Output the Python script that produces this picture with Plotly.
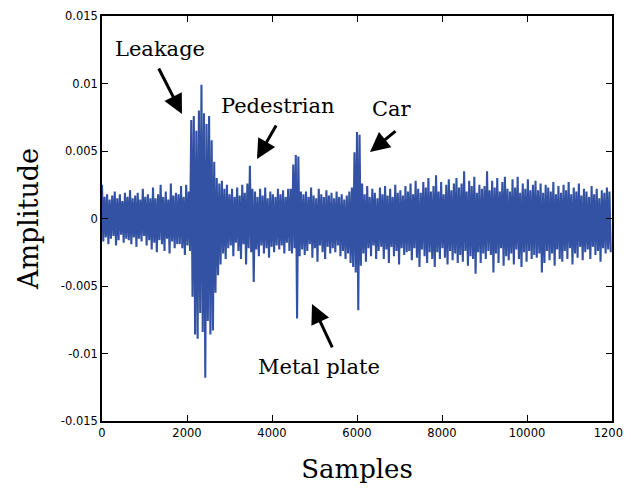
import numpy as np
import plotly.graph_objects as go

# Signal: alternating peak (upper) and trough (lower) values,
# in units of 1e-3, one pair every 60 samples (10 pairs per row = 600 samples).
value_unit = 1e-3
pair_span = 60  # samples per upper/lower pair

upper_peaks = [
    2.5, 1.6, 1.8, 1.4, 1.7, 2.0, 1.5, 1.8, 1.3, 1.9,
    1.6, 2.1, 1.5, 1.7, 1.9, 1.4, 2.2, 1.6, 1.8, 1.5,
    2.3, 1.5, 1.8, 2.5, 1.6, 2.0, 1.4, 2.6, 1.7, 1.9,
    1.8, 2.4, 1.6, 2.5, 2.0, 7.3, 7.6, 6.5, 8.0, 9.9,
    7.8, 7.0, 7.6, 5.8, 4.2, 3.0, 2.6, 2.8, 2.2, 2.5,
    1.8, 2.2, 1.6, 2.3, 1.7, 2.5, 1.9, 2.6, 3.9, 2.2,
    2.0, 1.6, 2.2, 1.7, 2.3, 1.5, 2.0, 1.8, 1.6, 2.2,
    1.8, 2.1, 1.6, 2.2, 2.2, 4.0, 4.7, 4.6, 2.0, 1.8,
    2.0, 1.6, 2.3, 1.7, 1.5, 2.2, 1.8, 1.6, 2.1, 1.7,
    1.9, 1.5, 2.0, 1.6, 1.8, 1.4, 1.7, 2.0, 2.3, 4.9,
    6.4, 6.2, 2.6, 1.8, 2.4, 1.6, 2.2, 1.9, 1.5, 2.3,
    1.8, 2.4, 1.7, 2.2, 1.6, 2.5, 1.9, 2.1, 1.7, 2.4,
    2.0, 2.6, 1.8, 2.8, 2.2, 1.9, 2.7, 2.3, 3.0, 2.0,
    2.4, 3.2, 2.0, 2.7, 1.8, 2.5, 2.9, 2.1, 2.6, 3.0,
    2.3, 2.6, 3.5, 2.0, 2.8, 2.4, 3.1, 1.9, 2.5, 2.2,
    2.4, 3.5, 2.1, 2.8, 2.3, 3.0, 2.0, 2.7, 3.1, 2.2,
    2.0, 2.9, 2.3, 3.1, 1.9, 2.6, 2.2, 2.9, 2.1, 2.5,
    2.8, 2.1, 2.6, 1.9, 2.5, 2.3, 2.0, 2.7, 1.8, 2.4,
    1.9, 2.5, 2.1, 2.7, 1.8, 2.3, 2.0, 2.6, 1.7, 2.2,
    2.0, 1.6, 2.4, 1.8, 2.2, 1.5, 2.1, 1.9, 2.3, 2.0,
]

lower_troughs = [
    -1.7, -1.4, -1.9, -1.5, -1.3, -2.0, -1.6, -1.2, -1.8, -1.5,
    -1.6, -1.9, -1.4, -2.1, -1.5, -1.7, -1.3, -2.0, -1.6, -2.3,
    -1.8, -2.5, -1.6, -1.9, -2.4, -1.5, -2.6, -1.7, -2.2, -1.9,
    -1.9, -2.2, -2.7, -2.0, -2.4, -5.8, -8.6, -8.9, -7.0, -8.4,
    -11.8, -7.6, -8.6, -8.3, -5.5, -4.2, -3.4, -2.6, -3.0, -2.2,
    -2.0, -2.8, -1.8, -2.4, -3.0, -1.9, -3.4, -2.2, -2.5, -4.7,
    -2.3, -2.8, -2.0, -2.6, -2.2, -2.9, -2.1, -2.5, -2.0, -2.3,
    -2.0, -2.6, -1.8, -2.4, -2.6, -2.2, -7.4, -2.8, -2.3, -2.7,
    -2.4, -1.9, -2.9, -2.2, -3.2, -2.0, -2.5, -3.0, -2.1, -2.6,
    -2.2, -2.5, -2.0, -2.8, -2.4, -3.0, -2.6, -3.3, -3.6, -4.0,
    -6.8, -3.5, -2.6, -3.2, -2.2, -2.8, -2.0, -3.0, -2.4, -2.1,
    -3.0, -2.3, -3.3, -2.1, -2.8, -2.4, -3.4, -2.2, -2.7, -2.5,
    -2.4, -3.1, -2.2, -2.9, -3.6, -2.3, -2.8, -3.3, -2.5, -3.0,
    -3.6, -2.5, -3.0, -2.2, -2.9, -3.4, -2.4, -3.1, -2.6, -3.3,
    -2.7, -3.2, -2.4, -3.5, -2.8, -3.0, -4.1, -2.5, -3.3, -2.6,
    -3.0, -2.4, -2.7, -4.0, -2.6, -3.3, -2.2, -3.5, -2.8, -3.1,
    -2.6, -3.4, -2.3, -3.0, -3.6, -2.5, -3.2, -2.4, -3.0, -2.7,
    -2.9, -2.6, -4.0, -3.3, -2.4, -3.1, -2.6, -3.5, -2.3, -3.0,
    -3.2, -2.4, -3.0, -2.2, -3.4, -2.6, -2.9, -2.1, -3.1, -2.5,
    -2.3, -3.0, -2.1, -2.7, -2.4, -3.2, -2.2, -2.6, -2.3, -2.5,
]

x_ticks = [0, 2000, 4000, 6000, 8000, 10000, 12000]
x_tick_text = ["0", "2000", "4000", "6000", "8000", "10000", "12000"]
y_ticks = [-0.015, -0.01, -0.005, 0, 0.005, 0.01, 0.015]
y_tick_text = ["-0.015", "-0.01", "-0.005", "0", "0.005", "0.01", "0.015"]

# annotations: (label, text x, text y, arrow tip x, arrow tip y, tail offset px)
labels = [
    ("Leakage", 1365, 0.01255, 1882, 0.00774, -24, -47),
    ("Pedestrian", 4141, 0.00833, 3647, 0.00441, 20, -35),
    ("Car", 6824, 0.00811, 6306, 0.00493, 27, -22),
    ("Metal plate", 5106, -0.0110, 4941, -0.00633, 21, 45),
]

# interleave peaks and troughs into one sample sequence
n = len(upper_peaks)
samples = np.empty(2 * n)
values = np.empty(2 * n)
samples[0::2] = np.arange(n) * pair_span
samples[1::2] = np.arange(n) * pair_span + pair_span / 2
values[0::2] = np.array(upper_peaks) * value_unit
values[1::2] = np.array(lower_troughs) * value_unit

fig = go.Figure()
fig.add_trace(go.Scatter(
    x=samples, y=values, mode="lines",
    line=dict(color="#3352a3", width=2.1),
    showlegend=False, hoverinfo="skip",
))

annotations = []
for text, tx, ty, ax_, ay_, dx, dy in labels:
    annotations.append(dict(
        x=tx, y=ty, xref="x", yref="y", text=text, showarrow=False,
        font=dict(family="DejaVu Serif", size=21, color="black"),
    ))
    annotations.append(dict(
        x=ax_, y=ay_, xref="x", yref="y", text="", showarrow=True,
        ax=dx, ay=dy, arrowhead=2, arrowsize=1.3, arrowwidth=3,
        arrowcolor="black", standoff=0,
    ))

axis_common = dict(
    showline=True, linecolor="black", linewidth=1.5, mirror="ticks",
    ticks="inside", ticklen=6, tickcolor="black", tickwidth=1.2,
    showgrid=False, zeroline=False, automargin=False,
    tickfont=dict(family="DejaVu Sans", size=11.5, color="black"),
)

# the page places the figure 8 px in from the top-left corner of the window
fig.update_layout(
    width=623, height=481,
    margin=dict(l=94, r=19, t=8, b=68),
    paper_bgcolor="white", plot_bgcolor="white",
    annotations=annotations,
    xaxis=dict(
        range=[0, 12000], tickvals=x_ticks, ticktext=x_tick_text,
        title=dict(text="Samples", font=dict(family="DejaVu Serif", size=26, color="black"), standoff=21),
        **axis_common,
    ),
    yaxis=dict(
        range=[-0.015, 0.015], tickvals=y_ticks, ticktext=y_tick_text,
        title=dict(text="Amplitude", font=dict(family="DejaVu Serif", size=27, color="black"), standoff=14),
        **axis_common,
    ),
)

fig.write_html("out.html")
